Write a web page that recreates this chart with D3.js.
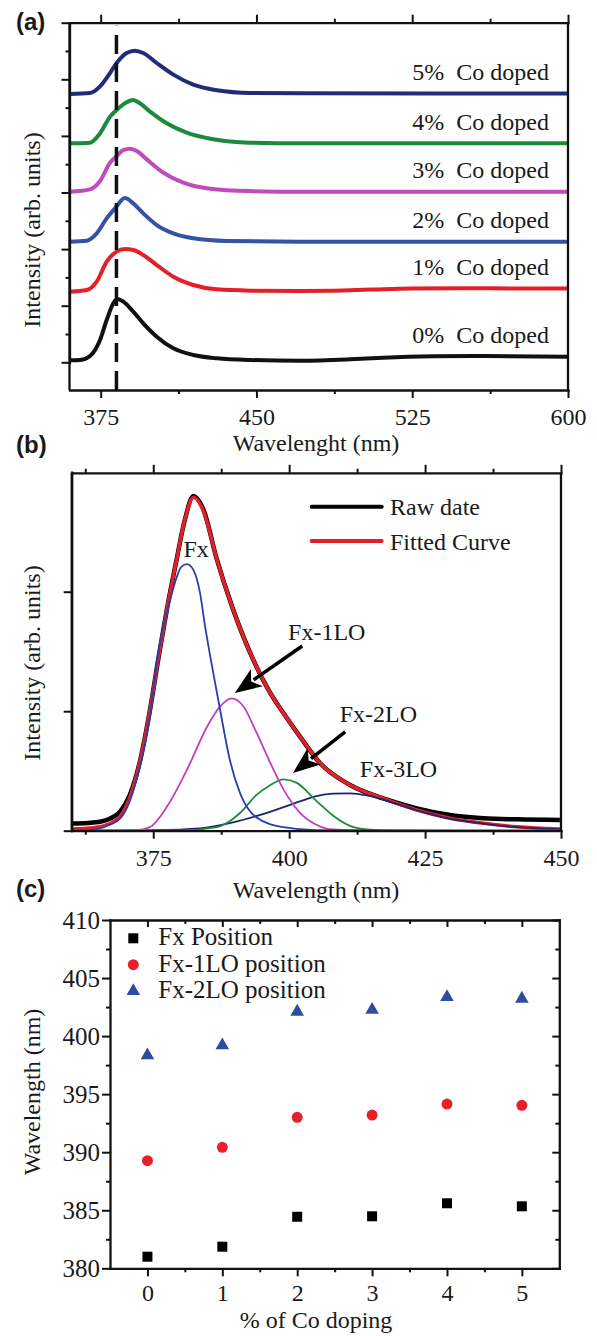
<!DOCTYPE html>
<html><head><meta charset="utf-8">
<script src="https://cdn.jsdelivr.net/npm/d3@7"></script>
<style>body{margin:0;background:#fff}svg{display:block}text{white-space:pre}</style>
</head><body>
<svg id="chart" width="597" height="1336"></svg>
<script>
// ================= DATA =================
// Panel (a): PL spectra, [wavelength nm, intensity above own baseline]
const spectraLabels = ["0%  Co doped","1%  Co doped","2%  Co doped","3%  Co doped","4%  Co doped","5%  Co doped"];
const spectraOffset = [0.035, 1.26, 2.131, 3.014, 3.869, 4.74];
const spec0 = [[360.2,0],[365.1,0.006],[369.9,0.077],[374.7,0.359],[377.9,0.713],[381.1,1.007],[383.0,1.084],[385.9,1.037],[390.7,0.86],[395.5,0.654],[402.0,0.418],[410.0,0.212],[419.6,0.094],[430.9,0.035],[446.9,0.006],[471,-0.006],[495,0.018],[511,0.046],[535,0.07],[554,0.075],[600,0.064]];
const spec1 = [[360.2,-0.012],[368.3,0.018],[373.1,0.165],[377.9,0.518],[382.7,0.695],[386.7,0.742],[390.7,0.724],[395.5,0.636],[402.0,0.459],[410.0,0.253],[419.6,0.106],[430.9,0.029],[446.9,0.006],[471,0],[487,0.005],[505,0.025],[525,0.045],[550,0.05],[575,0.045],[600,0.045]];
const spec2 = [[360.2,0],[368.3,0.018],[373.1,0.147],[377.9,0.412],[381.9,0.589],[386.7,0.77],[390.7,0.677],[395.5,0.5],[402.0,0.294],[410.0,0.147],[419.6,0.059],[435.7,0.012],[471,0],[600,0]];
const spec3 = [[360.2,0],[369.9,0.041],[374.7,0.188],[379.5,0.512],[382.7,0.63],[385.9,0.736],[389.1,0.76],[392.4,0.718],[397.2,0.571],[405.2,0.336],[414.8,0.159],[427.6,0.053],[446.9,0.012],[471,0],[600,0]];
const spec4 = [[360.2,0],[369.9,0.012],[374.7,0.177],[379.5,0.471],[382.7,0.589],[386.7,0.707],[390.4,0.766],[393.9,0.707],[398.8,0.559],[406.8,0.353],[416.4,0.188],[429.2,0.071],[446.9,0.012],[471,0],[600,0]];
const spec5 = [[360.2,0],[369.9,0.018],[374.7,0.135],[379.5,0.371],[382.7,0.548],[387.5,0.724],[391.5,0.766],[395.5,0.724],[402,0.548],[410,0.342],[419.6,0.165],[430.9,0.065],[446.9,0.018],[471,0.012],[600,0.01]];
const spectra = [spec0, spec1, spec2, spec3, spec4, spec5];
const peakMarkerNm = 382.6;
const aXTicks = [375,450,525,600];
const aXMinor = [412.5,487.5,562.5];
const aYTicks = [0,1,2,3,4,5,6];
const aYMinor = [0.5,1.5,2.5,3.5,4.5,5.5];

// Panel (b): fit of 0% spectrum
const rawData = [[360,0.06],[363,0.065],[365.2,0.075],[367,0.1],[368.9,0.16],[370.7,0.3],[372.6,0.59],[374.4,1.01],[375.9,1.43],[377.5,1.85],[379.3,2.27],[380.8,2.6],[382.4,2.8],[384.2,2.69],[386.7,2.27],[389.7,1.85],[393.4,1.43],[396.3,1.17],[399,0.98],[402,0.787],[405.7,0.564],[411.2,0.382],[417.3,0.27],[423.5,0.187],[429.6,0.131],[435.7,0.104],[441.9,0.095],[449.8,0.09]];
const fittedCurve = [[360,0.015],[364,0.025],[366.5,0.05],[368.9,0.12],[370.7,0.28],[372.6,0.59],[374.4,1.01],[375.9,1.43],[377.5,1.85],[379.3,2.27],[380.8,2.6],[382.4,2.79],[384.2,2.68],[386.7,2.27],[389.7,1.85],[393.4,1.43],[396.3,1.17],[399,0.98],[402,0.787],[405.7,0.564],[411.2,0.382],[417.3,0.271],[423.5,0.173],[429.6,0.104],[435.7,0.062],[441.9,0.033],[449.8,0.014]];
const fxPeak = [[360,0],[363,0.005],[365.2,0.02],[367,0.05],[368.9,0.1],[370.7,0.25],[372.6,0.55],[374.4,0.97],[375.6,1.38],[376.8,1.7],[378.1,1.93],[379.3,2.12],[380.2,2.21],[381.2,2.23],[382.4,2.18],[383.6,1.99],[384.5,1.72],[385.6,1.43],[387.3,1.01],[389.1,0.59],[391,0.31],[394,0.11],[398.9,0.03],[405,0.005],[450,0]];
const fx1LOPeak = [[360,0],[368,0],[372,0.005],[374.4,0.03],[377.5,0.2],[381.2,0.51],[384.9,0.87],[387.3,1.04],[389.4,1.108],[391.6,1.04],[394,0.82],[396.5,0.57],[398.9,0.35],[402,0.15],[405,0.05],[408.1,0.01],[415,0],[450,0]];
const fx2LOPeak = [[360,0],[380,0.002],[386.7,0.03],[389.7,0.1],[391,0.15],[394,0.3],[396.5,0.38],[398.9,0.43],[401.4,0.4],[405,0.25],[408.1,0.125],[411.2,0.04],[414.3,0.01],[420,0],[450,0]];
const fx3LOPeak = [[360,0],[375,0.005],[383.6,0.02],[389.7,0.07],[395.9,0.15],[402,0.245],[405,0.29],[408.1,0.31],[411.2,0.312],[414.3,0.295],[417.3,0.26],[423.5,0.17],[429.6,0.1],[435.7,0.06],[441.9,0.03],[449.8,0.012]];
const bXTicks = [375,400,425,450];
const bXMinor = [362.5,387.5,412.5,437.5];
const bYTicks = [0,1,2];
const legendB = ["Raw date","Fitted Curve"];
const peakNames = ["Fx","Fx-1LO","Fx-2LO","Fx-3LO"];

// Panel (c): peak positions vs doping
const doping = [0,1,2,3,4,5];
const fxPosition = [381.0, 381.86, 384.44, 384.48, 385.6, 385.34];
const fx1LOPosition = [389.27, 390.42, 393.0, 393.2, 394.15, 394.04];
const fx2LOPosition = [398.35, 399.2, 402.1, 402.27, 403.36, 403.22];
const legendC = ["Fx Position","Fx-1LO position","Fx-2LO position"];
const cXTicks = [0,1,2,3,4,5];
const cXMinor = [0.5,1.5,2.5,3.5,4.5];
const cYTicks = [380,385,390,395,400,405,410];
const cYMinor = [382.5,387.5,392.5,397.5,402.5,407.5];

// ================= DRAW =================
const svg = d3.select("#chart");
const serif = "'Liberation Serif','Times New Roman',serif";
const sans = "'Liberation Sans',Arial,sans-serif";
const ink = "#111";

function addAxis(gen, scale, tr, major, minor, majLen, minLen, fmt, pad, fs){
  const g = svg.append("g").attr("transform", tr);
  if (minor && minor.length){
    g.append("g").call(gen(scale).tickValues(minor).tickSize(minLen).tickSizeOuter(0).tickFormat(""))
      .call(s => s.select(".domain").remove());
  }
  const a = g.append("g").call(gen(scale).tickValues(major).tickSize(majLen).tickSizeOuter(0).tickPadding(pad||0).tickFormat(fmt || (()=>"")));
  a.attr("font-family", serif).attr("font-size", fs||24);
  a.selectAll("text").attr("fill","#1a1a1a");
  g.selectAll("line").attr("stroke", ink).attr("stroke-width", 2);
  a.select(".domain").attr("stroke", ink).attr("stroke-width", 2.3).attr("stroke-linecap","square");
  return g;
}
function txt(x, y, s, o){
  o = o||{};
  const t = svg.append("text").attr("x",x).attr("y",y).text(s)
    .attr("font-family", o.family||serif).attr("font-size", o.size||24)
    .attr("fill", o.fill||"#1a1a1a").attr("text-anchor", o.anchor||"start");
  if (o.weight) t.attr("font-weight", o.weight);
  if (o.rotate) t.attr("transform", `rotate(-90,${x},${y})`);
  return t;
}
const fmtInt = d => d3.format("d")(d);

// ---------- Panel (a)
{
  const L=69.5, R=568, T=22.7, B=390;
  const x = d3.scaleLinear().domain([360,600]).range([L,R]);
  const y = d3.scaleLinear().domain([0,6]).range([362.3,T]);
  const colors = ["#111111","#e3202a","#3552a8","#c04cbc","#1b8a3c","#232a78"];
  spectra.forEach((s,i)=>{
    const line = d3.line().x(d=>x(d[0])).y(d=>y(d[1]+spectraOffset[i])).curve(d3.curveMonotoneX);
    svg.append("path").attr("d", line(s)).attr("fill","none").attr("stroke",colors[i]).attr("stroke-width",4).attr("stroke-linejoin","round");
    const tail = s[s.length-1][1];
    txt(549, y(spectraOffset[i]+tail+0.24), spectraLabels[i], {anchor:"end"});
  });
  svg.append("line").attr("x1",x(peakMarkerNm)).attr("x2",x(peakMarkerNm)).attr("y1",B).attr("y2",T+3)
    .attr("stroke",ink).attr("stroke-width",3.5).attr("stroke-dasharray","19,9");
  addAxis(d3.axisBottom, x, `translate(0,${B})`, aXTicks, aXMinor, 8, 4, fmtInt, 10);
  addAxis(d3.axisTop, x, `translate(0,${T})`, aXTicks, aXMinor, 8, 4);
  addAxis(d3.axisLeft, y, `translate(${L},0)`, aYTicks, aYMinor, 8, 4);
  svg.append("line").attr("x1",L).attr("x2",L).attr("y1",T).attr("y2",B).attr("stroke",ink).attr("stroke-width",2.3);
  svg.append("line").attr("x1",R).attr("x2",R).attr("y1",T).attr("y2",B).attr("stroke",ink).attr("stroke-width",2.3);
  txt(316, 451, "Wavelenght (nm)", {anchor:"middle"});
  txt(40, 230, "Intensity (arb. units)", {anchor:"middle", rotate:true});
  txt(16, 30, "(a)", {family:sans, weight:"bold"});
}

// ---------- Panel (b)
{
  const L=71.7, R=561, T=472.8, B=830.7;
  const x = d3.scaleLinear().domain([360,450]).range([L,R]);
  const y = d3.scaleLinear().domain([0,3]).range([B,472.2]);
  const line = d3.line().x(d=>x(d[0])).y(d=>y(d[1])).curve(d3.curveMonotoneX);
  const comps = [[fx3LOPeak,"#1d2470"],[fx2LOPeak,"#1e8a3a"],[fx1LOPeak,"#c040c0"],[fxPeak,"#2b3fa8"]];
  svg.append("path").attr("d",line(rawData)).attr("fill","none").attr("stroke","#000").attr("stroke-width",4.5);
  svg.append("path").attr("d",line(fittedCurve)).attr("fill","none").attr("stroke","#e3202a").attr("stroke-width",3.5);
  comps.forEach(([d,c])=>{
    svg.append("path").attr("d",line(d)).attr("fill","none").attr("stroke",c).attr("stroke-width",1.8);
  });
  addAxis(d3.axisBottom, x, `translate(0,${B})`, bXTicks, bXMinor, 8, 4, fmtInt, 10);
  addAxis(d3.axisTop, x, `translate(0,${T})`, bXTicks, bXMinor, 8, 4);
  addAxis(d3.axisLeft, y, `translate(${L},0)`, bYTicks, [], 8, 4);
  svg.append("line").attr("x1",L).attr("x2",L).attr("y1",T).attr("y2",B).attr("stroke",ink).attr("stroke-width",2.3);
  svg.append("line").attr("x1",R).attr("x2",R).attr("y1",T).attr("y2",B).attr("stroke",ink).attr("stroke-width",2.3);
  // legend
  const legColors = ["#000","#e3202a"];
  legendB.forEach((s,i)=>{
    const yy = 506.7 + i*34.3;
    svg.append("line").attr("x1",311.7).attr("x2",381.7).attr("y1",yy).attr("y2",yy).attr("stroke",legColors[i]).attr("stroke-width",4).attr("stroke-linecap","round");
    txt(390, yy+8.5, s);
  });
  // peak annotations
  const labelAt = [[382.9,2.293,"middle"],[399.8,1.596,"start"],[409.3,0.912,"start"],[413.0,0.452,"start"]];
  peakNames.forEach((s,i)=>txt(x(labelAt[i][0]), y(labelAt[i][1]), s, {anchor:labelAt[i][2]}));
  const arrows = [[[402.4,1.546],[390.0,1.152]],[[410.3,0.828],[400.7,0.483]]];
  arrows.forEach(([a,b])=>{
    const x1=x(a[0]), y1=y(a[1]), x2=x(b[0]), y2=y(b[1]);
    const ang = Math.atan2(y2-y1, x2-x1), len=27, hw=10.5;
    const bx = x2 - len*Math.cos(ang), by = y2 - len*Math.sin(ang);
    svg.append("line").attr("x1",x1).attr("y1",y1).attr("x2",bx+4*Math.cos(ang)).attr("y2",by+4*Math.sin(ang)).attr("stroke","#000").attr("stroke-width",3.5);
    const px = -Math.sin(ang), py = Math.cos(ang);
    svg.append("path").attr("d",`M${x2},${y2}L${bx+hw*px},${by+hw*py}L${bx+7*Math.cos(ang)},${by+7*Math.sin(ang)}L${bx-hw*px},${by-hw*py}Z`).attr("fill","#000");
  });
  txt(316, 898, "Wavelength (nm)", {anchor:"middle"});
  txt(40, 663, "Intensity (arb. units)", {anchor:"middle", rotate:true});
  txt(16, 453, "(b)", {family:sans, weight:"bold"});
}

// ---------- Panel (c)
{
  const L=110, R=559.3, T=920, B=1268.3;
  const x = d3.scaleLinear().domain([-0.5,5.5]).range([L,R]);
  const y = d3.scaleLinear().domain([380,410]).range([B,T]);
  addAxis(d3.axisBottom, x, `translate(0,${B})`, cXTicks, cXMinor, 8, 4, fmtInt, 8, 24);
  addAxis(d3.axisTop, x, `translate(0,${T})`, cXTicks, cXMinor, -7, -4);
  addAxis(d3.axisLeft, y, `translate(${L},0)`, cYTicks, cYMinor, 8, 4, fmtInt, 2, 25);
  addAxis(d3.axisRight, y, `translate(${R},0)`, cYTicks, cYMinor, -7, -4);
  const series = [
    [fxPosition, d3.symbolSquare, 100, "#000"],
    [fx1LOPosition, d3.symbolCircle, 95, "#e8202a"],
    [fx2LOPosition, d3.symbolTriangle, 80, "#2f4ca3"]
  ];
  series.forEach(([vals, sym, size, col], k)=>{
    svg.append("g").selectAll("path").data(vals).join("path")
      .attr("transform",(d,i)=>`translate(${x(doping[i])},${y(d)})`)
      .attr("d", d3.symbol(sym, size)).attr("fill", col);
    const ly = 938.3 + k*26.4;
    svg.append("path").attr("transform",`translate(133.3,${ly})`).attr("d", d3.symbol(sym, size)).attr("fill", col);
    txt(158.3, ly+7, legendC[k], {size:25});
  });
  txt(316, 1328, "% of Co doping", {anchor:"middle", size:24});
  txt(40, 1092, "Wavelength (nm)", {anchor:"middle", rotate:true, size:24});
  txt(16, 897, "(c)", {family:sans, weight:"bold"});
}
</script>
</body></html>
